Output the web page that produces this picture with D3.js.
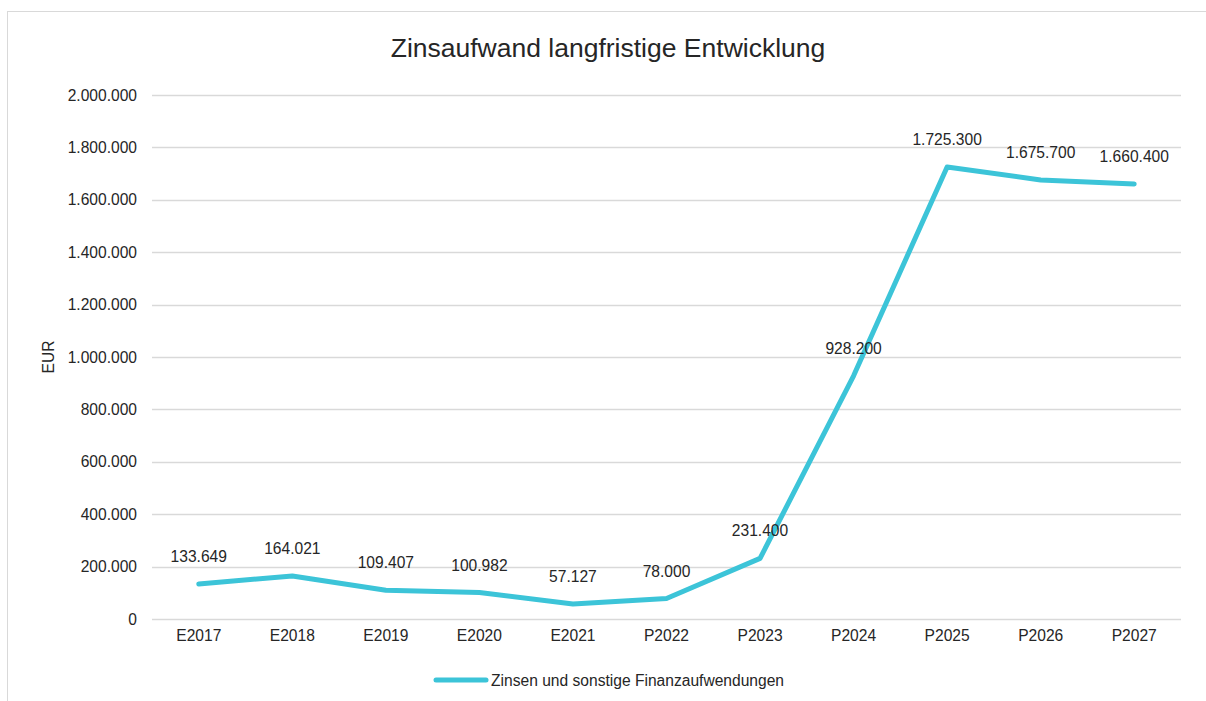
<!DOCTYPE html>
<html>
<head>
<meta charset="utf-8">
<script src="https://cdn.jsdelivr.net/npm/d3@7"></script>
<style>
  body { margin: 0; background: #fff; }
  svg { font-family: "Liberation Sans", Arial, sans-serif; }
</style>
</head>
<body>
<div id="viz"></div>
<script>
// data
let categories = ["E2017","E2018","E2019","E2020","E2021","P2022","P2023","P2024","P2025","P2026","P2027"]
let values = [133649, 164021, 109407, 100982, 57127, 78000, 231400, 928200, 1725300, 1675700, 1660400]
let yTicks = [0, 200000, 400000, 600000, 800000, 1000000, 1200000, 1400000, 1600000, 1800000, 2000000]
let seriesName = "Zinsen und sonstige Finanzaufwendungen"

let width = 1206, height = 701
let lineColor = "rgb(60,196,216)"
let textColor = "rgb(38,38,38)"
let fs = 15.6

let fmt = v => d3.format(",")(v).replace(/,/g, ".")

let svg = d3.select('#viz').append('svg').attr("width", width).attr("height", height)

// chart area border
svg.append("rect").attr("x", 7.5).attr("y", 11.5).attr("width", 1220).attr("height", 720)
   .attr("fill", "none").attr("stroke", "rgb(217,217,217)")

let x = d3.scaleBand().domain(categories).range([152, 1181])
let y = d3.scaleLinear().domain([0, 2000000]).range([619, 95])

// grid
svg.append("g").selectAll("line").data(yTicks).join("line")
   .attr("x1", 152).attr("x2", 1181)
   .attr("y1", d => Math.round(y(d)) + .5).attr("y2", d => Math.round(y(d)) + .5)
   .attr("stroke", "rgb(217,217,217)").attr("stroke-width", 1.3)

// y axis
let yAxis = svg.append("g").attr("transform", "translate(152,0)")
   .call(d3.axisLeft(y).tickValues(yTicks).tickFormat(fmt).tickSize(0).tickPadding(15))
yAxis.select(".domain").remove()
yAxis.selectAll("text").attr("font-size", fs).attr("fill", textColor).attr("font-family", "Liberation Sans, Arial, sans-serif")

// x axis
let xAxis = svg.append("g").attr("transform", "translate(0,619)")
   .call(d3.axisBottom(x).tickSize(0).tickPadding(11))
xAxis.select(".domain").remove()
xAxis.selectAll("text").attr("font-size", fs).attr("fill", textColor).attr("font-family", "Liberation Sans, Arial, sans-serif")

// title
svg.append("text").text("Zinsaufwand langfristige Entwicklung").attr("text-anchor", "middle")
   .attr("x", 608).attr("y", 57).attr("font-size", 26.5).attr("fill", textColor)

// y label
svg.append("text").text("EUR").attr("text-anchor", "middle")
   .attr("transform", "translate(54,357) rotate(-90)").attr("font-size", fs).attr("fill", textColor)

// line
let cx = d => x(d) + x.bandwidth() / 2
let line = d3.line().x((d, i) => cx(categories[i])).y(d => y(d))
svg.append("path").datum(values).attr("d", line)
   .attr("fill", "none").attr("stroke", lineColor).attr("stroke-width", 5)
   .attr("stroke-linecap", "round").attr("stroke-linejoin", "round")

// data labels
svg.append("g").selectAll("text").data(values).join("text")
   .text(d => fmt(d)).attr("text-anchor", "middle")
   .attr("x", (d, i) => cx(categories[i])).attr("y", d => y(d) - 22)
   .attr("font-size", fs).attr("fill", textColor)

// legend
svg.append("line").attr("x1", 436).attr("x2", 486).attr("y1", 680).attr("y2", 680)
   .attr("stroke", lineColor).attr("stroke-width", 5).attr("stroke-linecap", "round")
svg.append("text").text(seriesName).attr("x", 491).attr("y", 685.5)
   .attr("font-size", fs).attr("fill", textColor)
</script>
</body>
</html>
